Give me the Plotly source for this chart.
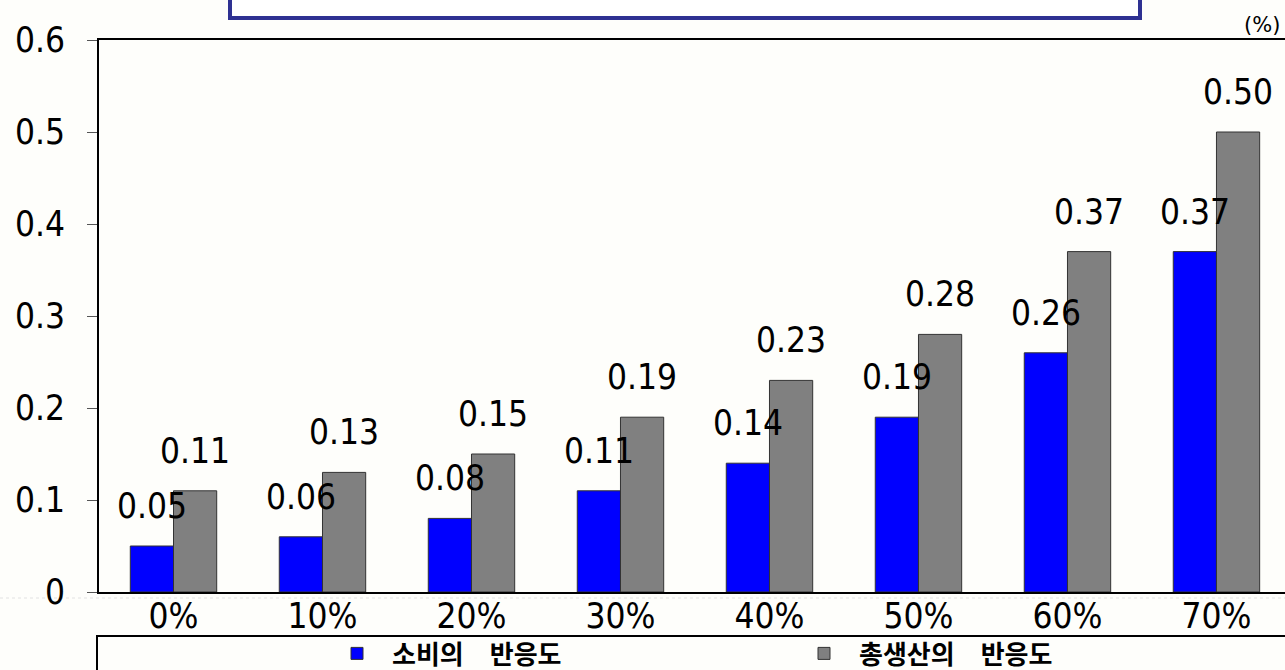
import plotly.graph_objects as go

# Scenario categories (x axis) and the two response series
categories = ["0%", "10%", "20%", "30%", "40%", "50%", "60%", "70%"]
consumption = [0.05, 0.06, 0.08, 0.11, 0.14, 0.19, 0.26, 0.37]
output = [0.11, 0.13, 0.15, 0.19, 0.23, 0.28, 0.37, 0.50]
series_names = ["소비의 반응도", "총생산의 반응도"]
y_ticks = [0, 0.1, 0.2, 0.3, 0.4, 0.5, 0.6]
y_tick_text = ["0", "0.1", "0.2", "0.3", "0.4", "0.5", "0.6"]

W, H = 1285, 670
ML, MT, MB, MR = 99, 40, 78, 0
plot_w = W - ML - MR
plot_h = H - MT - MB

BG = "#fefefb"
NUM_FONT = "DejaVu Sans Condensed, Liberation Sans, sans-serif"
KR_FONT = "Noto Sans CJK KR, sans-serif"
NUM_SIZE = 35


def px_x(px):
    return (px - ML) / plot_w


def px_y(py):
    return (H - MB - py) / plot_h


def legend_label(name):
    # wide gap between words in the legend entries
    return name.replace(" ", "\u2003")


fig = go.Figure()
fig.add_trace(go.Bar(
    x=categories, y=consumption, name=legend_label(series_names[0]),
    marker=dict(color="#0000ff", line=dict(color="#333333", width=1)),
))
fig.add_trace(go.Bar(
    x=categories, y=output, name=legend_label(series_names[1]),
    marker=dict(color="#808080", line=dict(color="#333333", width=1)),
))

# Value labels above each bar
annotations = []
for vals, shift in ((consumption, -21.5), (output, 21.5)):
    for c, v in zip(categories, vals):
        annotations.append(dict(
            x=c, y=v, xref="x", yref="y", text=f"{v:.2f}",
            showarrow=False, xanchor="center", yanchor="bottom",
            xshift=shift, yshift=18,
            font=dict(family=NUM_FONT, size=NUM_SIZE, color="#000000"),
        ))

# Unit note at top right
annotations.append(dict(
    x=px_x(1282), y=px_y(25), xref="paper", yref="paper", text="(%)",
    showarrow=False, xanchor="right", yanchor="middle",
    font=dict(family="DejaVu Sans, sans-serif", size=21, color="#000000"),
))

shapes = [
    # heading box along the top edge
    dict(type="rect", xref="paper", yref="paper",
         x0=px_x(230), x1=px_x(1140), y0=px_y(18), y1=px_y(-20),
         line=dict(color="#2e3192", width=4), fillcolor="#ffffff", layer="above"),
    # faint dotted guide just below the category axis
    dict(type="line", xref="paper", yref="paper",
         x0=px_x(0), x1=px_x(1285), y0=px_y(598), y1=px_y(598),
         line=dict(color="#e2e2e2", width=1, dash="dot"), layer="below"),
    # legend frame along the bottom edge
    dict(type="rect", xref="paper", yref="paper",
         x0=px_x(97), x1=px_x(1300), y0=px_y(700), y1=px_y(636),
         line=dict(color="#000000", width=2), fillcolor=BG, layer="below"),
]

fig.update_layout(
    width=W, height=H,
    margin=dict(l=ML, r=MR, t=MT, b=MB, pad=0, autoexpand=False),
    paper_bgcolor=BG, plot_bgcolor=BG,
    barmode="group", bargap=0.42, bargroupgap=0,
    showlegend=True,
    legend=dict(
        orientation="h", x=px_x(322), y=px_y(630), xanchor="left", yanchor="top",
        itemwidth=60, entrywidth=392, entrywidthmode="pixels",
        bgcolor="rgba(0,0,0,0)", borderwidth=0,
        font=dict(family=KR_FONT, size=26, color="#000000", weight="bold"),
        itemclick=False, itemdoubleclick=False,
    ),
    xaxis=dict(
        type="category", range=[-0.5, 7.46],
        showline=True, linecolor="#000000", linewidth=2, mirror=True,
        ticks="", showgrid=False, zeroline=False,
        ticklabelstandoff=-8,
        tickfont=dict(family=NUM_FONT, size=NUM_SIZE, color="#000000"),
    ),
    yaxis=dict(
        range=[0, 0.6], tickvals=y_ticks, ticktext=y_tick_text,
        showline=True, linecolor="#000000", linewidth=2, mirror=True,
        ticks="outside", ticklen=10, tickcolor="#555555", tickwidth=1,
        ticklabelstandoff=15,
        showgrid=False, zeroline=False,
        tickfont=dict(family=NUM_FONT, size=NUM_SIZE, color="#000000"),
    ),
    annotations=annotations,
    shapes=shapes,
)

fig.write_html("out.html")
